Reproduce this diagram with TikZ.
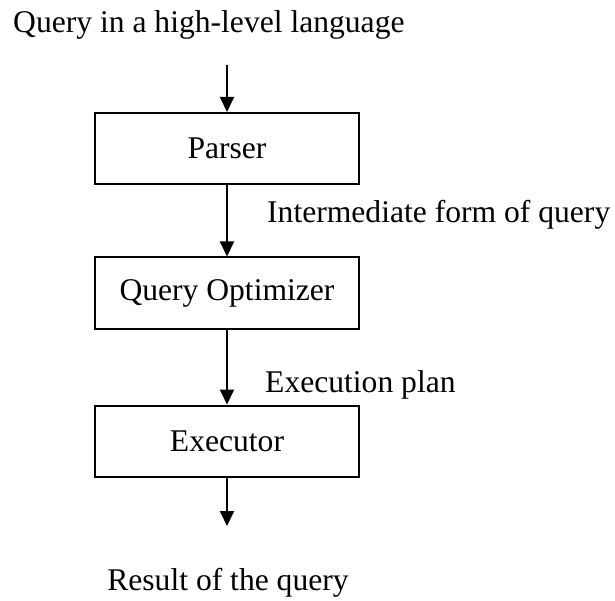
\documentclass[tikz,border=0pt]{standalone}
\usepackage{fontspec}
\setmainfont{Liberation Serif}
\usetikzlibrary{arrows.meta}
\begin{document}
\begin{tikzpicture}[x=1pt,y=-1pt,
  every node/.style={font=\fontsize{31.6}{36}\selectfont, inner sep=0pt},
  stage/.style={draw, line width=2pt, minimum width=264pt, minimum height=71pt},
  flow/.style={line width=2pt, -{Triangle[width=14pt,length=15pt]}}]
\useasboundingbox (0,0) rectangle (615,601);
\node[anchor=base west] (title) at (13,33) {Query in a high-level language};
\node[stage] (parser) at (227,148.5) {Parser};
\node[stage] (opt) at (227,293) {Query Optimizer};
\node[stage] (exec) at (227,441) {Executor};
\coordinate (in) at (227,65);
\coordinate (out) at (227,526);
\node[anchor=base west] (l1) at (267,223) {Intermediate form of query};
\node[anchor=base west] (l2) at (265,392) {Execution plan};
\node[anchor=base] (result) at (228,590) {Result of the query};
\draw[flow] (in) -- (parser.north);
\draw[flow] (parser.south) -- (opt.north);
\draw[flow] (opt.south) -- (exec.north);
\draw[flow] (exec.south) -- (out);
\end{tikzpicture}
\end{document}
